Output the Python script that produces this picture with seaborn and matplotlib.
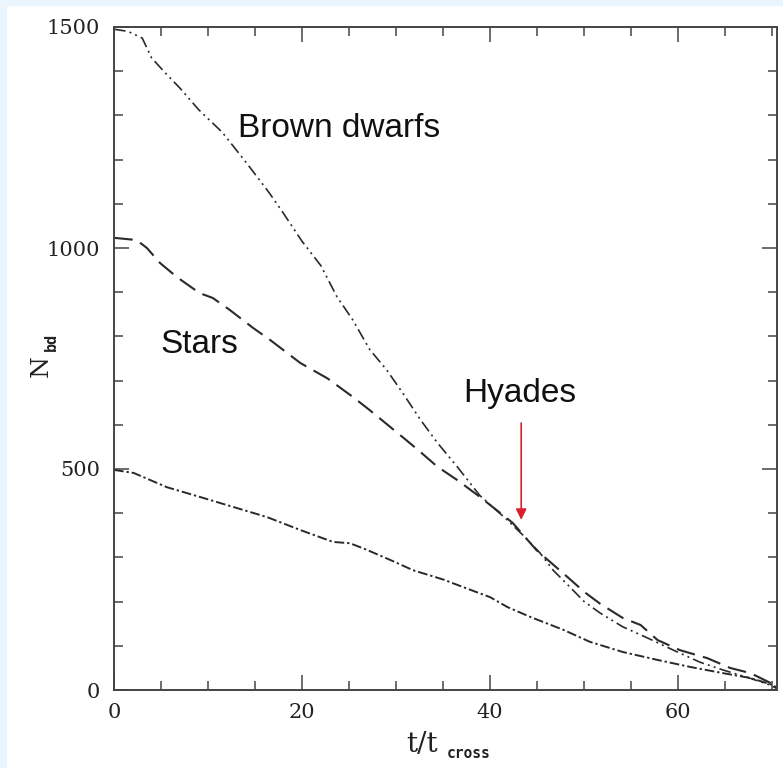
import numpy as np
import pandas as pd
import matplotlib
matplotlib.use("Agg")
import matplotlib.pyplot as plt
import seaborn as sns
from matplotlib.patches import Rectangle
from matplotlib.ticker import MultipleLocator

# ---- data ----
bd_t = [0, 1.5, 3, 4, 5.5, 7, 9, 11.5, 14, 16.5, 18, 20, 22, 23.7, 25.4, 27.2, 29, 30.7,
        32.6, 34.4, 36.5, 38.9, 41.8, 43.5, 45.3, 46.7, 48.8, 50, 51.7, 54.1, 56.7, 59.5,
        62.3, 64.8, 67.3, 69.8, 70.5]
bd_n = [1495, 1490, 1475, 1430, 1395, 1362, 1313, 1262, 1195, 1125, 1079, 1015, 960, 890,
        837, 770, 724, 672, 611, 559, 505, 440, 385, 350, 310, 271, 226, 200, 174, 143,
        118, 90, 63, 45, 29, 11, 3]

st_t = [0, 2.4, 3.5, 4.9, 6.7, 9.1, 10.5, 12.3, 14.8, 16.6, 19.8, 22.7, 25.4, 27.2, 30.7,
        32.5, 34.4, 36.5, 38.9, 42.4, 44.9, 48.2, 50, 51.7, 54.1, 56, 57.8, 60.2, 63.1,
        65.5, 67.7, 69.8, 70.5]
st_n = [1023, 1018, 1000, 966, 934, 898, 887, 860, 819, 792, 740, 705, 663, 633, 572,
        540, 505, 475, 437, 378, 317, 256, 222, 195, 163, 147, 113, 90, 72, 50, 38, 16, 5]

lo_t = [0, 2.1, 5.6, 9.1, 12.7, 16.3, 19.8, 23.3, 25.1, 26.9, 29.4, 31.8, 35, 37.1, 40,
        41.8, 44.3, 47.8, 50.6, 54.1, 57.8, 61.3, 64.8, 67.7, 70.1, 70.5]
lo_n = [498, 491, 459, 437, 414, 391, 362, 335, 332, 317, 294, 271, 250, 233, 210, 188,
        165, 136, 109, 86, 68, 52, 38, 27, 11, 5]

x_ticks = [0, 20, 40, 60]
y_ticks = [0, 500, 1000, 1500]

labels = ["Brown dwarfs", "Stars", "Hyades"]

sns.set_theme(style="ticks")
plt.rcParams["font.family"] = ["DejaVu Serif"]

fig = plt.figure(figsize=(7.83, 7.68), dpi=100)
fig.patch.set_facecolor("white")
ax = fig.add_axes([114 / 783, 1 - 690 / 768, (777 - 114) / 783, (690 - 27) / 768])

line_col = "#2a2a2a"
sns.lineplot(x=bd_t, y=bd_n, ax=ax, sort=False, color=line_col, lw=1.2,
             linestyle=(0, (7, 2.5, 1.2, 2.5, 1.2, 2.5)))
sns.lineplot(x=st_t, y=st_n, ax=ax, sort=False, color=line_col, lw=1.5,
             linestyle=(0, (9, 4)))
sns.lineplot(x=lo_t, y=lo_n, ax=ax, sort=False, color=line_col, lw=1.4,
             linestyle=(0, (5, 1.5, 1.2, 1.5)))

ax.set_xlim(0, 70.5)
ax.set_ylim(0, 1500)
ax.set_xticks(x_ticks)
ax.set_yticks(y_ticks)
ax.xaxis.set_minor_locator(MultipleLocator(5))
ax.yaxis.set_minor_locator(MultipleLocator(100))
ax.tick_params(which="both", direction="in", top=True, right=True, color="#444444",
               width=1.1)
ax.tick_params(which="major", length=11)
ax.tick_params(which="minor", length=6.5)
ax.tick_params(axis="x", which="major", pad=9, labelsize=15, labelcolor="#222222")
ax.tick_params(axis="y", which="major", pad=10, labelsize=15, labelcolor="#222222")
for s in ax.spines.values():
    s.set_linewidth(1.4)
    s.set_color("#444444")
ax.set_xlabel("")
ax.set_ylabel("")

txt_font = ["Liberation Sans", "DejaVu Sans"]
ax.text(13.2, 1251, labels[0], fontsize=24, family=txt_font, ha="left", va="baseline",
        color="#111111")
ax.text(4.9, 762, labels[1], fontsize=24, family=txt_font, ha="left", va="baseline",
        color="#111111")
ax.text(37.1, 652, labels[2], fontsize=24, family=txt_font, ha="left", va="baseline",
        color="#111111")

ax.annotate("", xy=(43.3, 385), xytext=(43.3, 604),
            arrowprops=dict(arrowstyle="-|>", color="#d8202c", lw=1.2,
                            mutation_scale=16, shrinkA=0, shrinkB=0))

# axis labels
fig.text(422 / 783, 1 - 744 / 768, "t/t", fontsize=20, family="DejaVu Serif",
         ha="center", va="center", color="#222222")
fig.text(469 / 783, 1 - 753 / 768, "cross", fontsize=10.5, family="DejaVu Sans Mono",
         fontweight="bold", ha="center", va="center", color="#222222")
fig.text(41 / 783, 1 - 366 / 768, "N", fontsize=18, family="DejaVu Serif",
         rotation=90, ha="center", va="center", color="#222222")
fig.text(51 / 783, 1 - 342 / 768, "bd", fontsize=11, family="DejaVu Sans Mono",
         fontweight="bold", rotation=90, ha="center", va="center", color="#222222")

# light blue page edges
fig.patches.append(Rectangle((0, 0), 6 / 783, 1, transform=fig.transFigure,
                             color="#eaf5fd", zorder=-1))
fig.patches.append(Rectangle((0, 1 - 5 / 768), 1, 5 / 768, transform=fig.transFigure,
                             color="#eaf5fd", zorder=-1))

fig.savefig("out.png", dpi=100, facecolor="white")
